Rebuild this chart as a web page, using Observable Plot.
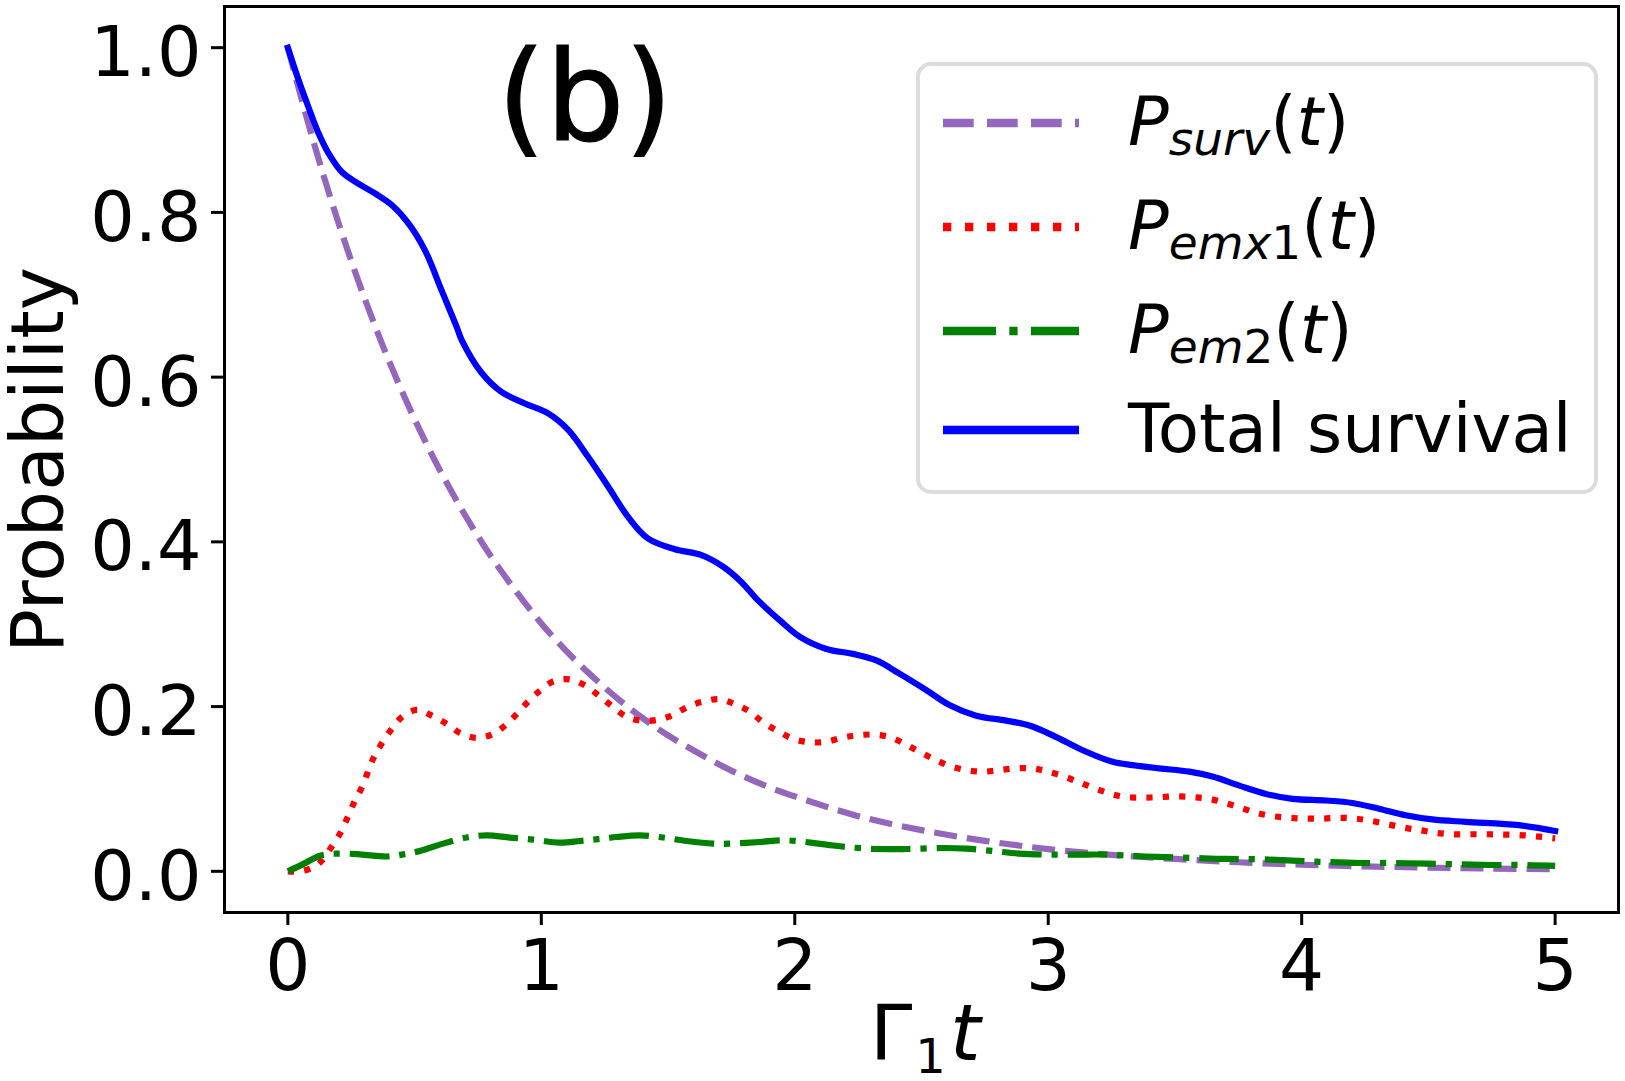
<!DOCTYPE html>
<html>
<head>
<meta charset="utf-8">
<script src="https://cdn.jsdelivr.net/npm/d3@7"></script>
<script src="https://cdn.jsdelivr.net/npm/@observablehq/plot@0.6"></script>
<style>
  html, body { margin: 0; padding: 0; background: white; }
  #wrap { position: relative; width: 1625px; height: 1081px; }
  #overlay { position: absolute; left: 0; top: 0; pointer-events: none; overflow: visible; }
  text { font-family: "DejaVu Sans", sans-serif; }
</style>
</head>
<body>
<div id="wrap"></div>
<script>
// ---- data ----
const xTicks = [0, 1, 2, 3, 4, 5];
const yTicks = [0.0, 0.2, 0.4, 0.6, 0.8, 1.0];

// P_surv(t)
const tSurv = [0, 0.1, 0.2, 0.3, 0.4, 0.5, 0.6, 0.7, 0.8, 0.9, 1.0, 1.1, 1.2, 1.3, 1.4, 1.5, 1.6, 1.7, 1.8, 1.9, 2.0, 2.25, 2.5, 2.75, 3.0, 3.25, 3.5, 3.75, 4.0, 4.25, 4.5, 4.75, 5.0];
const pSurv = [1.0, 0.887, 0.787, 0.698, 0.619, 0.549, 0.487, 0.432, 0.383, 0.340, 0.301, 0.267, 0.237, 0.210, 0.186, 0.165, 0.147, 0.130, 0.115, 0.102, 0.091, 0.067, 0.050, 0.037, 0.027, 0.020, 0.015, 0.011, 0.008, 0.006, 0.0045, 0.0033, 0.0025];

// P_emx1(t)
const tEmx1 = [0, 0.05, 0.1, 0.134, 0.173, 0.206, 0.232, 0.259, 0.292, 0.337, 0.37, 0.41, 0.449, 0.508, 0.568, 0.627, 0.679, 0.742, 0.804, 0.857, 0.90, 0.948, 0.997, 1.05, 1.113, 1.176, 1.228, 1.281, 1.334, 1.395, 1.461, 1.52, 1.579, 1.638, 1.704, 1.763, 1.822, 1.875, 1.934, 1.993, 2.052, 2.118, 2.184, 2.243, 2.308, 2.374, 2.433, 2.492, 2.551, 2.61, 2.676, 2.742, 2.808, 2.873, 2.939, 2.998, 3.064, 3.123, 3.182, 3.248, 3.307, 3.373, 3.438, 3.504, 3.57, 3.635, 3.698, 3.76, 3.822, 3.885, 3.951, 4.016, 4.082, 4.148, 4.214, 4.277, 4.341, 4.404, 4.467, 4.532, 4.597, 4.663, 4.728, 4.794, 4.86, 4.925, 5.0];
const pEmx1 = [0, 0.0, 0.005, 0.013, 0.03, 0.046, 0.063, 0.082, 0.102, 0.137, 0.155, 0.173, 0.187, 0.196, 0.189, 0.179, 0.168, 0.162, 0.166, 0.177, 0.19, 0.206, 0.22, 0.231, 0.233, 0.225, 0.213, 0.20, 0.188, 0.183, 0.184, 0.19, 0.20, 0.206, 0.209, 0.203, 0.194, 0.181, 0.170, 0.161, 0.157, 0.157, 0.162, 0.165, 0.166, 0.163, 0.155, 0.145, 0.136, 0.128, 0.123, 0.121, 0.123, 0.125, 0.125, 0.121, 0.115, 0.108, 0.101, 0.094, 0.090, 0.0895, 0.090, 0.091, 0.090, 0.088, 0.083, 0.077, 0.071, 0.067, 0.065, 0.064, 0.064, 0.065, 0.064, 0.061, 0.057, 0.053, 0.050, 0.0466, 0.045, 0.045, 0.045, 0.0446, 0.044, 0.0425, 0.040];

// P_em2(t)
const tEm2 = [0, 0.062, 0.127, 0.193, 0.285, 0.39, 0.456, 0.521, 0.613, 0.705, 0.784, 0.876, 0.968, 1.073, 1.152, 1.224, 1.297, 1.389, 1.48, 1.573, 1.678, 1.743, 1.862, 1.947, 2.006, 2.125, 2.203, 2.322, 2.44, 2.584, 2.676, 2.781, 2.886, 2.991, 3.11, 3.228, 3.385, 3.57, 3.70, 3.83, 3.964, 4.095, 4.227, 4.358, 4.49, 4.62, 4.752, 4.87, 5.0];
const pEm2 = [0, 0.009, 0.019, 0.0215, 0.0206, 0.018, 0.0206, 0.0247, 0.0336, 0.041, 0.0437, 0.041, 0.0385, 0.0349, 0.0368, 0.039, 0.0417, 0.0437, 0.041, 0.0368, 0.0336, 0.0336, 0.0356, 0.0377, 0.0368, 0.0324, 0.0295, 0.0271, 0.0271, 0.0283, 0.0276, 0.0247, 0.0215, 0.0203, 0.0203, 0.0203, 0.018, 0.0162, 0.015, 0.0146, 0.013, 0.0113, 0.0101, 0.0101, 0.0093, 0.0085, 0.0077, 0.0077, 0.0065];

// Total survival
const tTotal = [0, 0.042, 0.081, 0.121, 0.16, 0.213, 0.278, 0.344, 0.41, 0.475, 0.541, 0.607, 0.666, 0.686, 0.765, 0.843, 0.935, 1.027, 1.106, 1.185, 1.264, 1.343, 1.421, 1.527, 1.632, 1.717, 1.787, 1.855, 1.94, 2.019, 2.125, 2.229, 2.322, 2.413, 2.519, 2.61, 2.716, 2.834, 2.926, 3.018, 3.136, 3.254, 3.333, 3.438, 3.557, 3.648, 3.754, 3.859, 3.964, 4.095, 4.2, 4.305, 4.41, 4.515, 4.647, 4.857, 5.0];
const pTotal = [1.0, 0.961, 0.928, 0.896, 0.872, 0.849, 0.835, 0.823, 0.809, 0.787, 0.754, 0.705, 0.661, 0.645, 0.605, 0.582, 0.568, 0.556, 0.536, 0.503, 0.467, 0.430, 0.404, 0.391, 0.384, 0.370, 0.352, 0.329, 0.305, 0.285, 0.270, 0.264, 0.256, 0.240, 0.220, 0.202, 0.189, 0.183, 0.177, 0.165, 0.147, 0.133, 0.129, 0.125, 0.121, 0.115, 0.104, 0.094, 0.088, 0.086, 0.083, 0.076, 0.068, 0.063, 0.060, 0.056, 0.049];

const zip = (ts, ps) => ts.map((t, i) => ({t, p: ps[i]}));
const surv = zip(tSurv, pSurv);
const emx1 = zip(tEmx1, pEmx1);
const em2 = zip(tEm2, pEm2);
const total = zip(tTotal, pTotal);

const colors = {surv: "#9467bd", emx1: "#ff0000", em2: "#008000", total: "#0000ff"};
const LW = 6.2;
const CURVE = "catmull-rom";

const chart = Plot.plot({
  width: 1625,
  height: 1081,
  marginLeft: 224,
  marginRight: 7,
  marginTop: 6,
  marginBottom: 169,
  x: {domain: [-0.25, 5.25]},
  y: {domain: [-0.05, 1.05]},
  style: {fontFamily: "DejaVu Sans", fontSize: "70px", color: "black", background: "white"},
  marks: [
    Plot.line(surv, {x: "t", y: "p", curve: CURVE, stroke: colors.surv, strokeWidth: LW, strokeDasharray: "23,10", strokeLinecap: "butt"}),
    Plot.line(emx1, {x: "t", y: "p", curve: CURVE, stroke: colors.emx1, strokeWidth: LW, strokeDasharray: "6.2,10.2", strokeLinecap: "butt"}),
    Plot.line(em2, {x: "t", y: "p", curve: CURVE, stroke: colors.em2, strokeWidth: LW, strokeDasharray: "39.7,9.9,6.2,9.9", strokeLinecap: "butt"}),
    Plot.line(total, {x: "t", y: "p", curve: CURVE, stroke: colors.total, strokeWidth: LW, strokeLinecap: "square"}),
    Plot.frame({stroke: "black", strokeWidth: 3}),
    Plot.axisX(xTicks, {tickSize: 13, tickPadding: 14, strokeWidth: 3, fontSize: 71, label: null, tickFormat: d => String(d)}),
    Plot.axisY(yTicks, {tickSize: 13, strokeWidth: 3, label: null, tickFormat: () => ""}),
    Plot.axisY(yTicks, {tickSize: 0, tickPadding: 23, dy: 6, fontSize: 70, label: null, tickFormat: d3.format(".1f")})
  ]
});

const wrap = document.getElementById("wrap");
wrap.appendChild(chart);

// ---- overlay: annotation, axis titles, legend ----
const NS = "http://www.w3.org/2000/svg";
const ov = document.createElementNS(NS, "svg");
ov.setAttribute("id", "overlay");
ov.setAttribute("width", 1625);
ov.setAttribute("height", 1081);
ov.setAttribute("font-family", "DejaVu Sans");
wrap.appendChild(ov);

function el(tag, attrs, parent) {
  const e = document.createElementNS(NS, tag);
  for (const k in attrs) e.setAttribute(k, attrs[k]);
  (parent || ov).appendChild(e);
  return e;
}
function tspan(parent, txt, attrs) {
  const e = el("tspan", attrs || {}, parent);
  e.textContent = txt;
  return e;
}

// (b)
const b = el("text", {x: 585, y: 140, "text-anchor": "middle", "font-size": 124, fill: "black", stroke: "black", "stroke-width": 1.2});
b.textContent = "(b)";

// y label
const yl = el("text", {transform: "translate(63,460) rotate(-90)", "text-anchor": "middle", "font-size": 73, fill: "black"});
yl.textContent = "Probability";

// x label  Γ_1 t
const xl = el("text", {x: 870, y: 1060, "font-size": 76, fill: "black"});
tspan(xl, "Γ");
tspan(xl, "1", {"font-size": 48, dy: 13, dx: 3});
tspan(xl, "t", {"font-style": "italic", "font-size": 78, dy: -13, dx: 4});

// legend
const legendItems = [
  {key: "surv", sub: "surv", digit: "", dash: "30.7,13.3"},
  {key: "emx1", sub: "emx", digit: "1", dash: "8.3,13.7"},
  {key: "em2", sub: "em", digit: "2", dash: "53,13.3,8.3,13.3"},
  {key: "total", label: "Total survival", dash: null}
];
el("rect", {x: 918, y: 64, width: 678, height: 428, rx: 13, ry: 13, fill: "white", "fill-opacity": 0.8, stroke: "#dcdcdc", "stroke-width": 4});
const rowY = [123, 227, 331, 430];
legendItems.forEach((it, i) => {
  const y = rowY[i];
  const ln = el("line", {x1: 943, x2: 1079, y1: y, y2: y, stroke: colors[it.key], "stroke-width": 8.3});
  if (it.dash) ln.setAttribute("stroke-dasharray", it.dash);
  const tx = el("text", {x: 1128, y: y + 22, "font-size": 67.5, fill: "black"});
  if (it.label) {
    tx.textContent = it.label;
  } else {
    tspan(tx, "P", {"font-style": "italic"});
    tspan(tx, it.sub, {"font-style": "italic", "font-size": 47, dy: 10});
    if (it.digit) tspan(tx, it.digit, {"font-size": 47});
    tspan(tx, "(", {dy: -10});
    tspan(tx, "t", {"font-style": "italic"});
    tspan(tx, ")");
  }
});
</script>
</body>
</html>
